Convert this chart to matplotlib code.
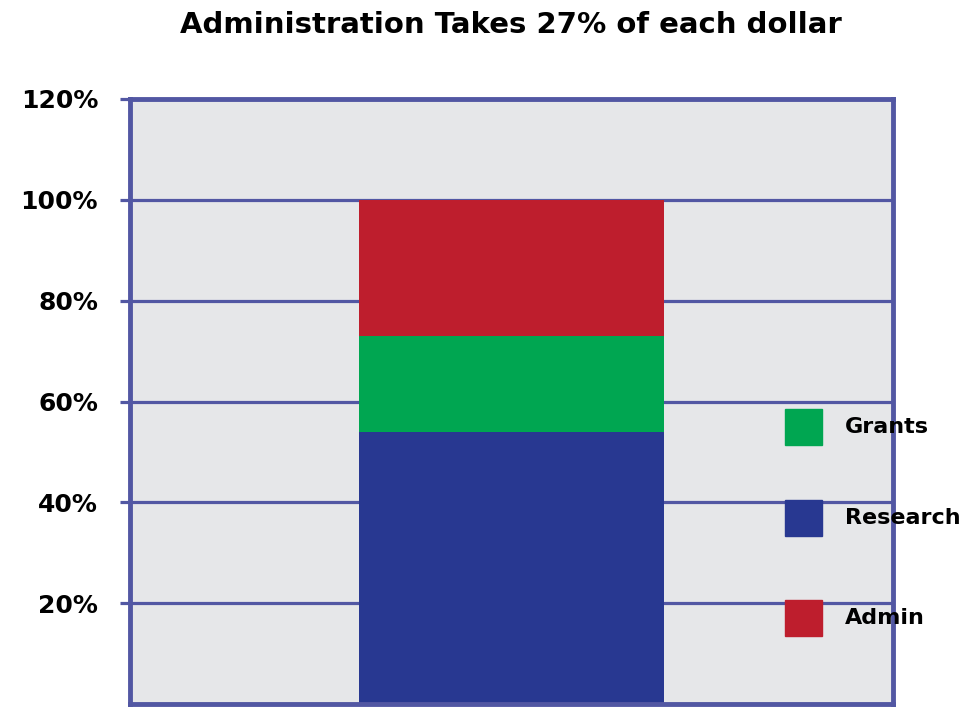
import matplotlib
matplotlib.use("Agg")
import matplotlib.pyplot as plt
from matplotlib.patches import Rectangle

title = "Administration Takes 27% of each dollar"
categories = ["Research", "Grants", "Admin"]
values = [54, 19, 27]
colors = ["#283891", "#00a651", "#be1e2d"]
legend_order = ["Grants", "Research", "Admin"]
yticks = [20, 40, 60, 80, 100, 120]
ytick_labels = ["20%", "40%", "60%", "80%", "100%", "120%"]

line_col = "#5257a3"

fig = plt.figure(figsize=(9.71, 7.10), dpi=100)
ax = fig.add_axes([130/971, 6/710, (893-130)/971, (704-99)/710])
ax.set_facecolor("#e6e7e9")

bottom = 0
for cat, v, c in zip(categories, values, colors):
    ax.bar(0, v, width=0.8, bottom=bottom, color=c, zorder=2)
    bottom += v

ax.set_xlim(-1, 1)
ax.set_ylim(0, 120)
ax.set_xticks([])
ax.set_yticks(yticks)
ax.set_yticklabels(ytick_labels, fontsize=18, fontweight="bold")
ax.yaxis.grid(True, color=line_col, linewidth=2.3, zorder=1)
ax.set_axisbelow(True)
ax.tick_params(axis="y", length=7, width=2.3, color=line_col, pad=16)
for s in ax.spines.values():
    s.set_color(line_col)
    s.set_linewidth(3.5)

fig.text(511/971, 1 - 25/710, title, ha="center", va="center",
         fontsize=21, fontweight="bold")

# legend
leg_y = [427, 518, 618]
for lab, y in zip(legend_order, leg_y):
    c = colors[categories.index(lab)]
    fig.patches.append(Rectangle((785/971, 1 - (y + 18)/710), 37/971, 36/710,
                                 transform=fig.transFigure, color=c, zorder=5))
    fig.text(845/971, 1 - y/710, lab, ha="left", va="center",
             fontsize=16, fontweight="bold", zorder=6)

fig.savefig("out.png", dpi=100)
